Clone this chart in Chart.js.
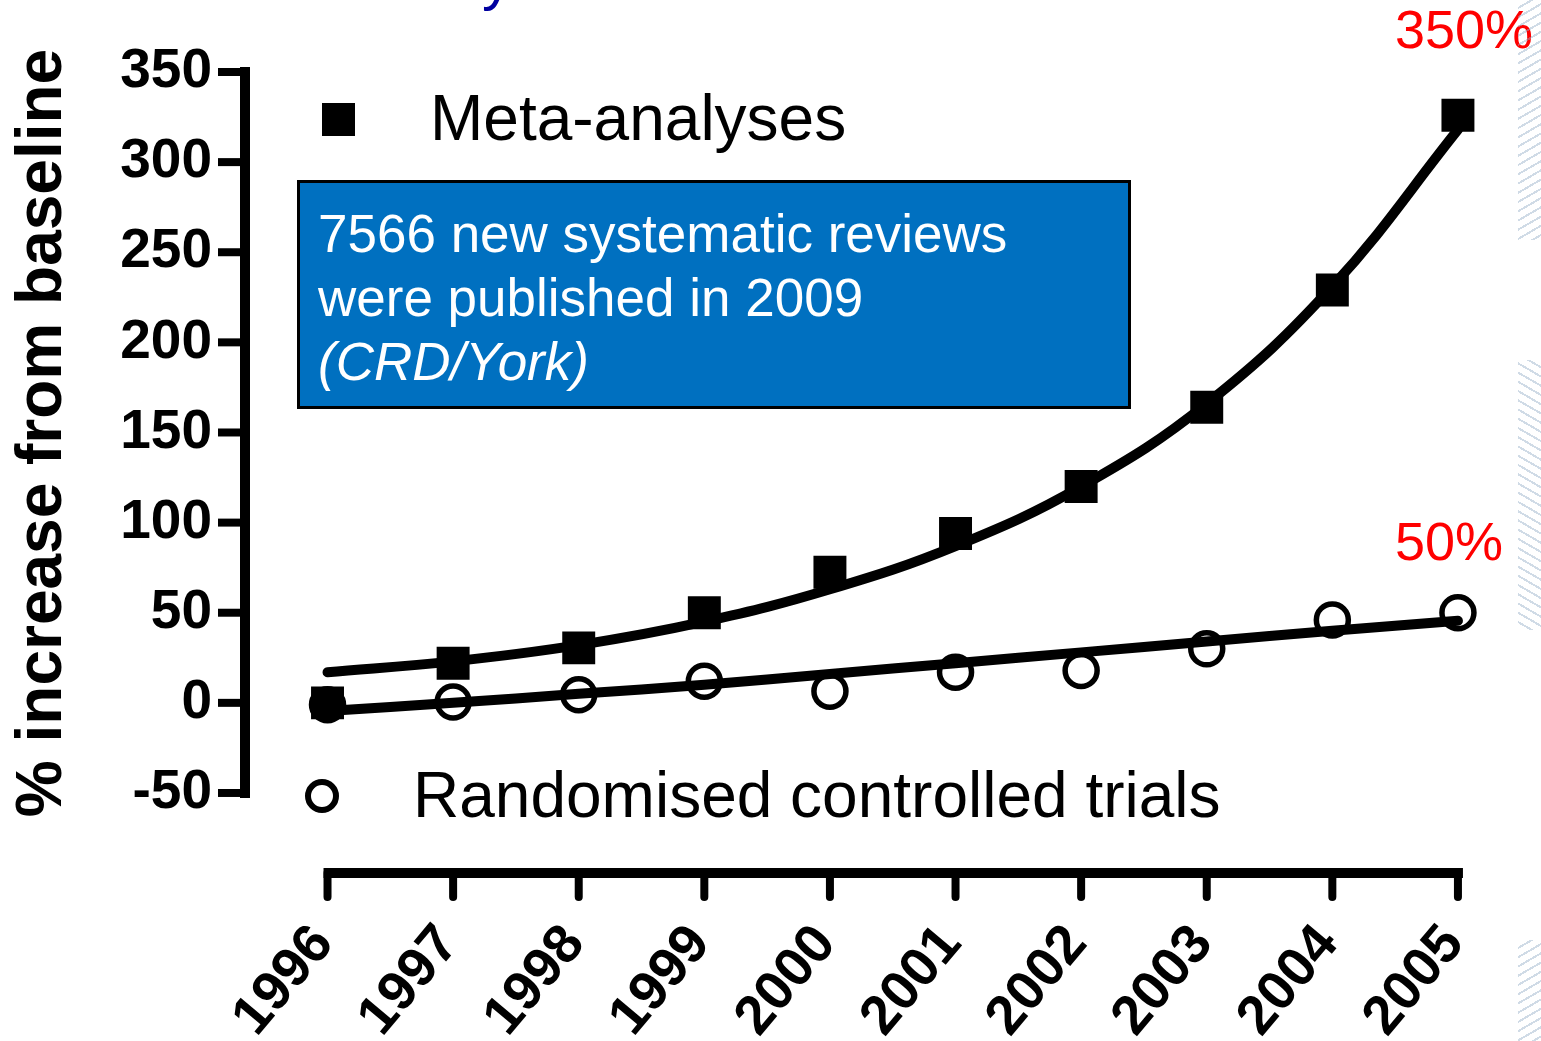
<!DOCTYPE html>
<html>
<head>
<meta charset="utf-8">
<script src="https://cdn.jsdelivr.net/npm/chart.js@4.4.1/dist/chart.umd.min.js"></script>
<style>
  html, body { margin: 0; padding: 0; background: #fff; }
  #wrap { position: relative; width: 1541px; height: 1041px; overflow: hidden; font-family: "Liberation Sans", Arial, sans-serif; }
  #c { position: absolute; left: 0; top: 0; }
  .txt { position: absolute; white-space: nowrap; line-height: 1; }
  #box {
    position: absolute; left: 297px; top: 180px; width: 834px; height: 229px;
    box-sizing: border-box; border: 3px solid #000; background: #0070c0;
    color: #fff; font-size: 53px; line-height: 64px; padding: 19px 0 0 18px;
  }
  .stripes { position: absolute; left: 1518px; width: 23px; }
</style>
</head>
<body>
<div id="wrap">
  <canvas id="c" width="1541" height="1041"></canvas>
  <div class="txt" style="left:482px; top:-51px; font-size:60px; color:#0000a0;">y</div>
  <div class="txt" style="left:430px; top:86px; font-size:64px; color:#000;">Meta-analyses</div>
  <div class="txt" style="left:413px; top:763px; font-size:64px; color:#000;">Randomised controlled trials</div>
  <div id="box">7566 new systematic reviews<br>were published in 2009<br><i>(CRD/York)</i></div>
  <div class="txt" style="left:1395px; top:2px; font-size:54px; color:#ff0000;">350%</div>
  <div class="txt" style="left:1395px; top:514px; font-size:54px; color:#ff0000;">50%</div>
  <div class="stripes" style="top:0; height:240px; background:repeating-linear-gradient(150deg, transparent 0 6px, rgba(150,175,200,0.45) 6px 8px);"></div>
  <div class="stripes" style="top:360px; height:270px; background:repeating-linear-gradient(30deg, transparent 0 6px, rgba(150,175,200,0.45) 6px 8px);"></div>
  <div class="stripes" style="top:940px; height:101px; background:repeating-linear-gradient(150deg, transparent 0 6px, rgba(150,175,200,0.45) 6px 8px);"></div>
</div>
<script>
const years = [1996, 1997, 1998, 1999, 2000, 2001, 2002, 2003, 2004, 2005];
const metaAnalyses = [0, 22, 30.5, 50, 72.5, 94, 120, 164, 229, 326];
const rcts = [-1, 0.5, 4.5, 12, 6.5, 17, 18, 30, 46, 50];
const metaFit = [17, 23, 32, 45, 63, 87, 120, 166, 231, 318];
const rctFit = [-4.5, 0, 5, 10, 16, 22, 28, 34, 40, 45.5];
const yTicks = [-50, 0, 50, 100, 150, 200, 250, 300, 350];
const yTitle = '% increase from baseline';

const font = '"Liberation Sans", Arial, sans-serif';
const pts = ys => years.map((x, i) => ({ x: x, y: ys[i] }));

// axes drawn PRISM style: y axis from -50 to 350, x axis detached below
const prismAxes = {
  id: 'prismAxes',
  beforeDatasetsDraw(chart) {
    const { ctx, chartArea } = chart;
    const x = chart.scales.x, y = chart.scales.y;
    ctx.save();
    ctx.strokeStyle = '#000';
    ctx.fillStyle = '#000';

    // y axis
    const left = chartArea.left;
    ctx.lineWidth = 10;
    ctx.beginPath();
    ctx.moveTo(left, y.getPixelForValue(350) - 5);
    ctx.lineTo(left, y.getPixelForValue(-50) + 5);
    ctx.stroke();
    ctx.lineWidth = 8;
    yTicks.forEach(v => {
      const p = y.getPixelForValue(v);
      ctx.beginPath();
      ctx.moveTo(left - 27, p);
      ctx.lineTo(left, p);
      ctx.stroke();
    });

    // x axis
    const bottom = chartArea.bottom;
    ctx.lineWidth = 10;
    ctx.beginPath();
    ctx.moveTo(x.getPixelForValue(years[0]) - 4, bottom);
    ctx.lineTo(x.getPixelForValue(years[years.length - 1]) + 5, bottom);
    ctx.stroke();
    ctx.lineWidth = 8;
    ctx.lineCap = 'round';
    years.forEach(v => {
      const p = x.getPixelForValue(v);
      ctx.beginPath();
      ctx.moveTo(p, bottom);
      ctx.lineTo(p, bottom + 24);
      ctx.stroke();
    });

    // y title
    ctx.translate(43, 433);
    ctx.rotate(-Math.PI / 2);
    ctx.font = 'bold 64px ' + font;
    ctx.textAlign = 'center';
    ctx.textBaseline = 'middle';
    ctx.fillText(yTitle, 0, 0);
    ctx.restore();

    // legend markers
    ctx.save();
    ctx.fillStyle = '#000';
    ctx.fillRect(322, 103, 33, 33);
    ctx.strokeStyle = '#000';
    ctx.lineWidth = 6;
    ctx.beginPath();
    ctx.arc(322, 796, 14, 0, Math.PI * 2);
    ctx.stroke();
    ctx.restore();
  }
};

new Chart(document.getElementById('c'), {
  type: 'line',
  data: {
    datasets: [
      {
        label: 'Meta-analyses',
        data: pts(metaAnalyses),
        showLine: false,
        pointStyle: 'rect',
        pointRadius: 23.3,
        pointBorderWidth: 0,
        pointBackgroundColor: '#000',
        clip: false
      },
      {
        label: 'Randomised controlled trials',
        data: pts(rcts),
        showLine: false,
        pointStyle: 'circle',
        pointRadius: 16,
        pointBorderWidth: 5.5,
        pointBorderColor: '#000',
        pointBackgroundColor: 'rgba(0,0,0,0)',
        clip: false
      },
      {
        label: 'Meta-analyses fit',
        data: pts(metaFit),
        borderColor: '#000',
        borderWidth: 10,
        borderCapStyle: 'round',
        tension: 0.4,
        pointRadius: 0,
        clip: false
      },
      {
        label: 'RCT fit',
        data: pts(rctFit),
        borderColor: '#000',
        borderWidth: 10,
        borderCapStyle: 'round',
        tension: 0.4,
        pointRadius: 0,
        clip: false
      }
    ]
  },
  options: {
    responsive: false,
    devicePixelRatio: 1,
    animation: false,
    events: [],
    layout: { padding: { top: 72, right: 71, left: 0, bottom: 0 } },
    plugins: { legend: { display: false }, tooltip: { enabled: false } },
    scales: {
      x: {
        type: 'linear',
        min: 1995.343,
        max: 2005.096,
        grid: { display: false, drawTicks: false },
        border: { display: false },
        afterBuildTicks: s => { s.ticks = years.map(v => ({ value: v })); },
        afterFit: s => { s.height = 168; s.paddingLeft = 0; s.paddingRight = 0; },
        ticks: {
          autoSkip: false,
          minRotation: 50,
          maxRotation: 50,
          labelOffset: -4,
          padding: 40,
          color: '#000',
          font: { family: font, size: 55, weight: 'bold' },
          callback: v => String(v)
        }
      },
      y: {
        min: -94.4,
        max: 350,
        grid: { display: false, drawTicks: false },
        border: { display: false },
        afterBuildTicks: s => { s.ticks = yTicks.map(v => ({ value: v })); },
        afterFit: s => { s.width = 245; s.paddingTop = 0; s.paddingBottom = 0; },
        ticks: {
          padding: 33,
          color: '#000',
          font: { family: font, size: 55, weight: 'bold' },
          callback: v => String(v)
        }
      }
    }
  },
  plugins: [prismAxes]
});
</script>
</body>
</html>
